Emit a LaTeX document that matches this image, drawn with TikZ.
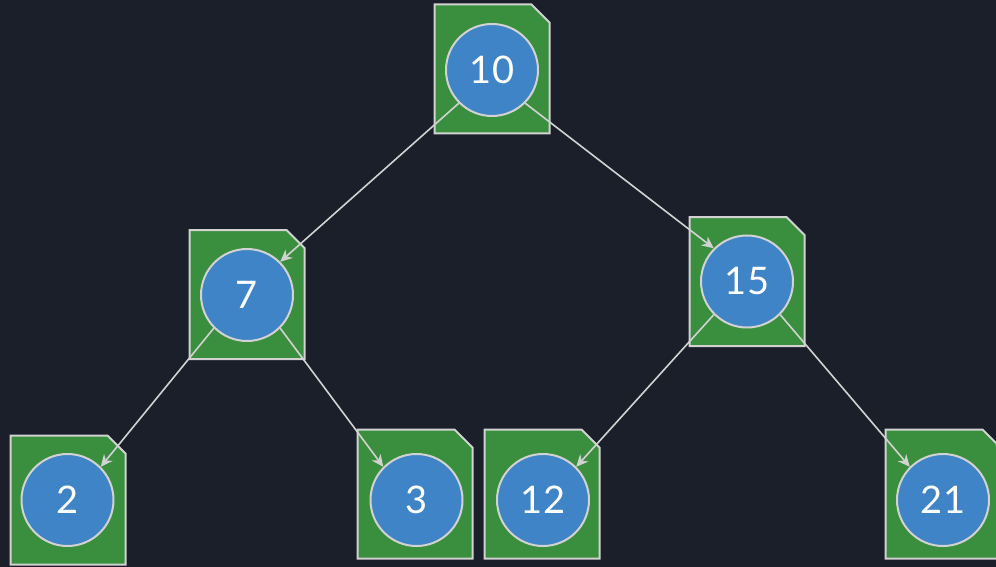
\documentclass[tikz,border=0pt]{standalone}
\usepackage{fontspec}
\setmainfont{Lato}
\usetikzlibrary{arrows.meta,shapes.misc}
\definecolor{nightbg}{HTML}{1B1F2A}
\definecolor{leafgreen}{HTML}{3A8F3E}
\definecolor{keyblue}{HTML}{3E84C6}
\definecolor{rimgray}{HTML}{D2D2D2}
\tikzset{
  notecard/.style={chamfered rectangle,chamfered rectangle corners=north east,
                   chamfered rectangle xsep=4.5pt,chamfered rectangle ysep=4.5pt,
                   draw=rimgray,fill=leafgreen,line width=1pt,
                   inner xsep=24.25pt,inner ysep=27.75pt},
  keyball/.style={circle,draw=rimgray,fill=keyblue,line width=1pt,
                  minimum size=46pt,inner sep=0pt,text=white,
                  font=\fontsize{19}{22}\selectfont},
  treearr/.style={-{Stealth[length=6pt,width=5.5pt]},line width=0.8pt,
                  draw=rimgray}
}
\begin{document}
\begin{tikzpicture}[x=0.5pt,y=-0.5pt]
    \fill[nightbg] (0,0) rectangle (996,567);
    \useasboundingbox (0,0) rectangle (996,567);
    % note cards
    \node[notecard] (n10) at (492,69) {};
    \node[notecard] (n7) at (247,294.5) {};
    \node[notecard] (n15) at (747,281.5) {};
    \node[notecard] (n2) at (68,500) {};
    \node[notecard] (n3) at (415,494) {};
    \node[notecard] (n12) at (542,494) {};
    \node[notecard] (n21) at (943,494) {};
    % keys
    \node[keyball] (c10) at (492,70) {10};
    \node[keyball] (c7) at (247,295) {7};
    \node[keyball] (c15) at (747,281.5) {15};
    \node[keyball] (c2) at (67.5,500) {2};
    \node[keyball] (c3) at (416.5,500) {3};
    \node[keyball] (c12) at (543,500) {12};
    \node[keyball] (c21) at (943,500) {21};
    \draw[treearr] (c10.south west) -- (c7.north east);
    \draw[treearr] (c10.south east) -- (c15.north west);
    \draw[treearr] (c7.south west) -- (c2.north east);
    \draw[treearr] (c7.south east) -- (c3.north west);
    \draw[treearr] (c15.south west) -- (c12.north east);
    \draw[treearr] (c15.south east) -- (c21.north west);
\end{tikzpicture}
\end{document}
